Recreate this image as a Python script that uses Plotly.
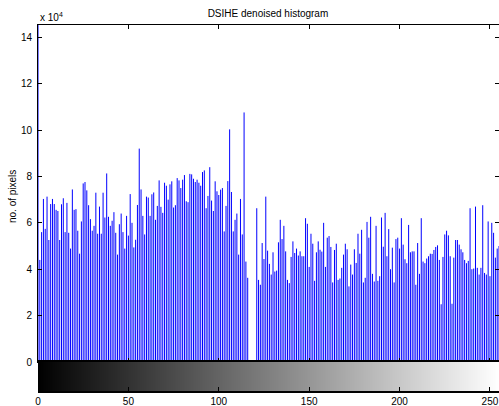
import plotly.graph_objects as go

# Histogram counts (in units of 1e4 pixels) for gray levels 0..255
counts_e4 = [
    14.6, 4.4, 5.6, 7.03, 5.74, 7.13, 5.26, 6.81, 7.03, 6.81,      # 0-9
    6.56, 6.51, 5.26, 6.8, 7.06, 5.6, 6.86, 5.57, 4.89, 7.44,      # 10-19
    6.56, 6.59, 5.66, 4.67, 6.06, 7.7, 7.76, 7.4, 6.76, 6.16,      # 20-29
    5.66, 5.87, 7.3, 5.53, 6.7, 5.53, 7.3, 6.23, 8.13, 6.26,       # 30-39
    5.87, 6.09, 6.46, 5.57, 4.63, 5.94, 6.4, 5.6, 4.89, 6.3,       # 40-49
    5.45, 7.24, 6.0, 4.94, 5.27, 6.77, 9.2, 7.44, 6.3, 5.5,        # 50-59
    7.13, 7.09, 6.3, 7.23, 7.31, 6.13, 6.73, 7.83, 6.69, 6.43,     # 60-69
    7.73, 7.6, 7.0, 7.66, 7.79, 6.66, 6.76, 7.93, 7.83, 7.5,       # 70-79
    7.86, 8.06, 6.93, 6.89, 8.11, 8.09, 7.9, 7.76, 7.86, 7.73,     # 80-89
    7.6, 8.19, 8.26, 6.63, 7.16, 8.4, 6.96, 6.51, 7.79, 7.36,      # 90-99
    7.2, 7.43, 7.5, 5.63, 6.73, 7.8, 10.03, 7.33, 5.63, 6.13,      # 100-109
    6.4, 4.63, 7.03, 5.5, 10.76, 4.33, 3.63, 0, 0, 0,              # 110-119
    0, 6.63, 3.54, 3.33, 5.13, 4.44, 7.13, 4.8, 4.23, 3.77,        # 120-129
    4.73, 3.9, 3.94, 5.16, 6.13, 5.3, 5.87, 4.77, 3.54, 3.4,       # 130-139
    4.53, 5.2, 4.7, 4.89, 4.59, 4.77, 4.56, 4.56, 6.2, 5.96,       # 140-149
    4.1, 5.53, 5.1, 3.5, 4.73, 5.2, 4.84, 4.76, 6.0, 4.1,          # 150-159
    5.36, 5.43, 4.96, 3.43, 4.83, 5.1, 3.54, 3.6, 4.06, 4.63,      # 160-169
    5.1, 4.86, 3.26, 4.2, 3.77, 4.86, 4.27, 5.53, 4.67, 5.7,       # 170-179
    3.43, 3.63, 6.04, 5.36, 6.26, 3.8, 3.47, 5.87, 3.5, 3.7,       # 180-189
    6.23, 4.97, 6.43, 4.56, 5.73, 4.0, 4.93, 3.43, 5.3, 5.36,      # 190-199
    4.89, 6.2, 5.06, 4.43, 4.26, 5.91, 4.73, 4.77, 4.77, 3.33,     # 200-209
    5.13, 3.8, 6.2, 4.33, 4.26, 4.46, 4.56, 4.67, 4.66, 4.83,      # 210-219
    4.96, 5.03, 4.4, 2.49, 4.53, 5.5, 5.66, 5.46, 4.56, 2.51,      # 220-229
    4.5, 5.26, 5.26, 5.06, 4.86, 4.73, 4.4, 4.26, 4.36, 6.63,      # 230-239
    4.0, 4.03, 6.7, 4.06, 3.77, 4.06, 6.76, 3.84, 3.77, 6.06,      # 240-249
    3.7, 6.0, 5.57, 4.5, 4.89, 5.0,                                # 250-255
]
gray_levels = list(range(256))
counts = [v * 1e4 for v in counts_e4]

y_tick_vals = [0, 20000, 40000, 60000, 80000, 100000, 120000, 140000]
y_tick_text = ["0", "2", "4", "6", "8", "10", "12", "14"]
x_tick_vals = [0, 50, 100, 150, 200, 250]
x_tick_text = ["0", "50", "100", "150", "200", "250"]

title_text = "DSIHE denoised histogram"
y_label = "no. of pixels"

FONT = "Liberation Sans, Arial, Helvetica, sans-serif"

# stem lines (like imhist): one vertical segment per gray level
stem_x, stem_y = [], []
for g, c in zip(gray_levels, counts):
    stem_x += [g, g, None]
    stem_y += [0, c, None]

fig = go.Figure()

fig.add_trace(go.Scatter(
    x=stem_x, y=stem_y, mode="lines",
    line=dict(color="#0000ff", width=1),
    xaxis="x", yaxis="y", showlegend=False, hoverinfo="skip",
))

fig.add_trace(go.Heatmap(
    x=gray_levels, y=[0.5], z=[gray_levels],
    colorscale=[[0, "black"], [1, "white"]], zmin=0, zmax=255,
    showscale=False, xaxis="x2", yaxis="y2", hoverinfo="skip",
))

split = 29 / 366

fig.update_layout(
    width=499, height=406,
    margin=dict(l=38, r=0, t=25, b=15),
    paper_bgcolor="white", plot_bgcolor="white",
    font=dict(family=FONT, size=10, color="black"),
    xaxis=dict(
        domain=[0, 1], range=[0, 255], anchor="y",
        tickvals=x_tick_vals, showticklabels=False,
        ticks="inside", ticklen=4, tickcolor="black",
        showline=True, linecolor="black", linewidth=1, mirror="ticks",
        showgrid=False, zeroline=False,
    ),
    yaxis=dict(
        domain=[split, 1], range=[0, 145300], anchor="x",
        tickvals=y_tick_vals, ticktext=y_tick_text,
        ticks="inside", ticklen=4, tickcolor="black",
        ticklabelstandoff=3,
        showline=True, linecolor="black", linewidth=1, mirror="ticks",
        showgrid=False, zeroline=False,
    ),
    xaxis2=dict(
        domain=[0, 1], range=[0, 255], anchor="y2",
        tickvals=x_tick_vals, ticktext=x_tick_text,
        ticks="inside", ticklen=4, tickcolor="black",
        showline=True, linecolor="black", linewidth=2, mirror=True,
        showgrid=False, zeroline=False,
    ),
    yaxis2=dict(
        domain=[0, split], range=[0, 1], anchor="x2",
        showticklabels=False, ticks="",
        showline=False, showgrid=False, zeroline=False,
    ),
    title=dict(
        text=title_text, x=0.537, xanchor="center",
        y=1 - 13 / 406, yanchor="middle",
        font=dict(family=FONT, size=10, color="black"),
    ),
    annotations=[
        dict(text="x 10<sup>4</sup>", xref="paper", yref="paper",
             x=0, y=1, xanchor="left", yanchor="bottom",
             yshift=0, showarrow=False, font=dict(size=10)),
        dict(text=y_label, xref="paper", yref="paper",
             x=0, y=0.53, xanchor="center", yanchor="middle",
             xshift=-26, textangle=-90, showarrow=False,
             font=dict(size=10)),
    ],
)

fig.write_html(
    "out.html",
    config={"displayModeBar": False},
    post_script="document.body.style.margin='0';document.body.style.overflow='hidden';",
)
